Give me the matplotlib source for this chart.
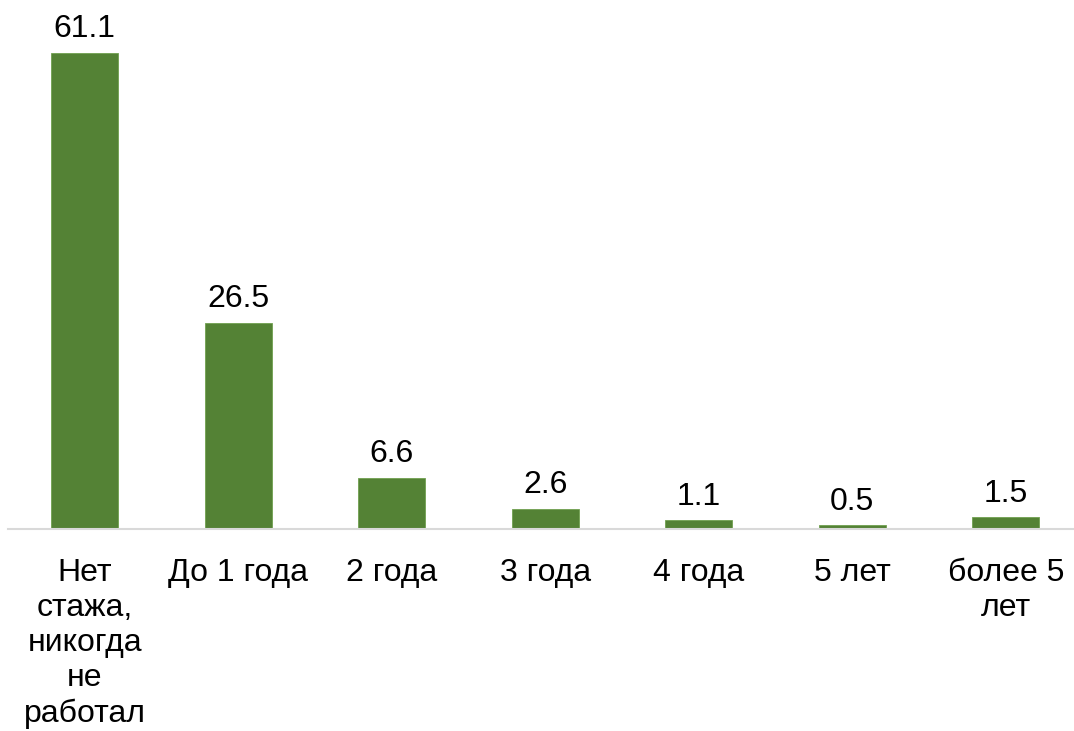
import matplotlib.pyplot as plt

# categories and values (share, %)
categories = [
    "Нет\nстажа,\nникогда\nне\nработал",
    "До 1 года",
    "2 года",
    "3 года",
    "4 года",
    "5 лет",
    "более 5\nлет",
]
values = [61.1, 26.5, 6.6, 2.6, 1.1, 0.5, 1.5]

plt.rcParams['font.family'] = ['Liberation Sans', 'DejaVu Sans']

fig = plt.figure(figsize=(10.74, 7.31), dpi=100)
# axes placed so that bar centres and baseline line up with the reference
ax = fig.add_axes([8 / 1074, 1 - 529 / 731, 1074.5 / 1074, 529 / 731])

x = range(len(categories))
bars = ax.bar(x, values, width=0.435, color='#548235', edgecolor='#70a050', linewidth=0.6)

# value labels above the bars
for bar, v in zip(bars, values):
    ax.text(bar.get_x() + bar.get_width() / 2, v + 1.1, f'{v:.1f}',
            ha='center', va='bottom', fontsize=23, color='#000000')

ax.set_xlim(-0.5, 6.5)
ax.set_ylim(0, 67.9)
ax.set_xticks(list(x))
ax.set_xticklabels(categories, fontsize=23, linespacing=1.22, va='top')
ax.tick_params(axis='x', length=0, pad=21)
ax.set_yticks([])

for side in ['top', 'left', 'right']:
    ax.spines[side].set_visible(False)
ax.spines['bottom'].set_color('#d9d9d9')
ax.spines['bottom'].set_linewidth(1.5)

fig.savefig('out.png', dpi=100)
